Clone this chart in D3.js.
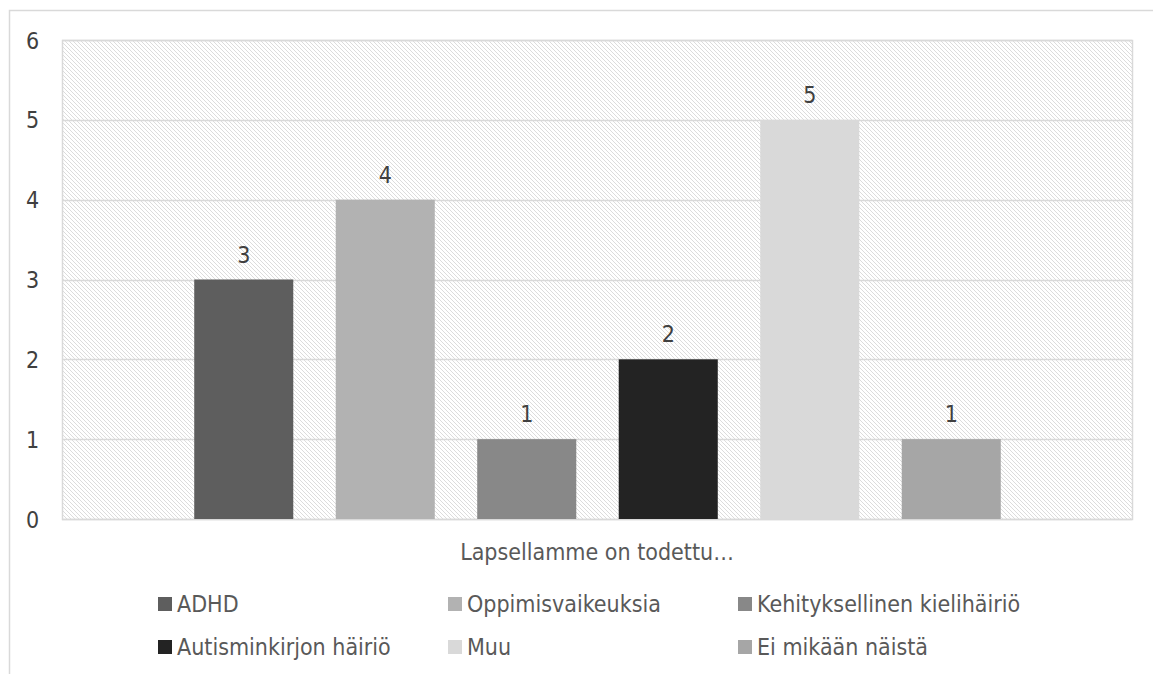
<!DOCTYPE html>
<html>
<head>
<meta charset="utf-8">
<script src="https://cdn.jsdelivr.net/npm/d3@7"></script>
<style>
  body { margin: 0; background: #fff; }
  text { font-family: "DejaVu Sans Condensed", "DejaVu Sans", sans-serif; fill: #404040; }
</style>
</head>
<body>
<div id="chart"></div>
<script>
// Data
const categories = ['ADHD', 'Oppimisvaikeuksia', 'Kehityksellinen kielihäiriö',
  'Autisminkirjon häiriö', 'Muu', 'Ei mikään näistä'];
const values = [3, 4, 1, 2, 5, 1];
const colors = ['#5e5e5e', '#b2b2b2', '#888888', '#232323', '#d9d9d9', '#a6a6a6'];
const yTicks = [0, 1, 2, 3, 4, 5, 6];
const axisTitle = 'Lapsellamme on todettu…';

// Layout
const W = 1153, H = 674;
const plot = { left: 62, top: 40, right: 1132, bottom: 519 };
const fontSize = '23px';

const svg = d3.select('#chart')
  .append('svg')
  .attr('width', W)
  .attr('height', H);

// hatch pattern for plot background
const defs = svg.append('defs');
const pat = defs.append('pattern')
  .attr('id', 'hatch')
  .attr('patternUnits', 'userSpaceOnUse')
  .attr('width', 4)
  .attr('height', 4);
pat.append('rect').attr('width', 4).attr('height', 4).attr('fill', '#fff');
pat.append('path')
  .attr('d', 'M-1,-1 L5,5 M-1,3 L1,5 M3,-1 L5,1')
  .attr('stroke', '#dcdcdc')
  .attr('stroke-width', 1);

// outer chart border (top + left visible)
svg.append('path')
  .attr('d', `M9.5,${H} L9.5,10.5 L${W},10.5`)
  .attr('fill', 'none')
  .attr('stroke', '#d9d9d9')
  .attr('stroke-width', 1.5);

// Scales
const y = d3.scaleLinear().domain([0, 6]).range([plot.bottom, plot.top]);
const x = d3.scaleBand()
  .domain(categories)
  .range([173, 1022])
  .paddingInner(0.3)
  .paddingOuter(0.15);

// plot background
svg.append('rect')
  .attr('x', plot.left)
  .attr('y', plot.top)
  .attr('width', plot.right - plot.left)
  .attr('height', plot.bottom - plot.top)
  .attr('fill', 'url(#hatch)');

// gridlines
svg.append('g')
  .selectAll('line')
  .data(yTicks)
  .join('line')
  .attr('x1', plot.left)
  .attr('x2', plot.right)
  .attr('y1', d => Math.round(y(d)) + 0.5)
  .attr('y2', d => Math.round(y(d)) + 0.5)
  .attr('stroke', '#d9d9d9')
  .attr('stroke-width', 1.5);

// plot border
svg.append('rect')
  .attr('x', plot.left + 0.5)
  .attr('y', plot.top + 0.5)
  .attr('width', plot.right - plot.left)
  .attr('height', plot.bottom - plot.top)
  .attr('fill', 'none')
  .attr('stroke', '#d9d9d9')
  .attr('stroke-width', 1.5);

// y axis labels
const yAxis = d3.axisLeft(y).tickValues(yTicks).tickFormat(d3.format('d')).tickSize(0);
const gy = svg.append('g')
  .attr('transform', `translate(${plot.left},0)`)
  .call(yAxis);
gy.select('.domain').remove();
gy.selectAll('text')
  .style('font-size', fontSize)
  .style('font-family', '"DejaVu Sans Condensed", "DejaVu Sans", sans-serif')
  .attr('fill', '#404040')
  .attr('text-anchor', 'start')
  .attr('x', -36)
  .attr('dy', '0.35em');

// bars
svg.append('g')
  .selectAll('rect')
  .data(categories)
  .join('rect')
  .attr('x', d => x(d))
  .attr('y', (d, i) => y(values[i]))
  .attr('width', x.bandwidth())
  .attr('height', (d, i) => y(0) - y(values[i]))
  .attr('fill', (d, i) => colors[i]);

// value labels
svg.append('g')
  .selectAll('text')
  .data(categories)
  .join('text')
  .attr('x', d => x(d) + x.bandwidth() / 2)
  .attr('y', (d, i) => y(values[i]) - 25)
  .attr('dy', '0.35em')
  .attr('text-anchor', 'middle')
  .style('font-size', fontSize)
  .text((d, i) => values[i]);

// axis title
svg.append('text')
  .attr('x', 597)
  .attr('y', 552)
  .attr('dy', '0.35em')
  .attr('text-anchor', 'middle')
  .style('font-size', fontSize)
  .style('fill', '#595959')
  .text(axisTitle);

// legend
const legend = svg.append('g')
  .selectAll('g')
  .data(categories)
  .join('g')
  .attr('transform', (d, i) => `translate(${158 + (i % 3) * 290},${604 + Math.floor(i / 3) * 43})`);
legend.append('rect')
  .attr('x', 0)
  .attr('y', -7)
  .attr('width', 14)
  .attr('height', 14)
  .attr('fill', (d, i) => colors[i]);
legend.append('text')
  .attr('x', 19)
  .attr('y', 0)
  .attr('dy', '0.35em')
  .style('font-size', fontSize)
  .style('fill', '#595959')
  .text(d => d);
</script>
</body>
</html>
